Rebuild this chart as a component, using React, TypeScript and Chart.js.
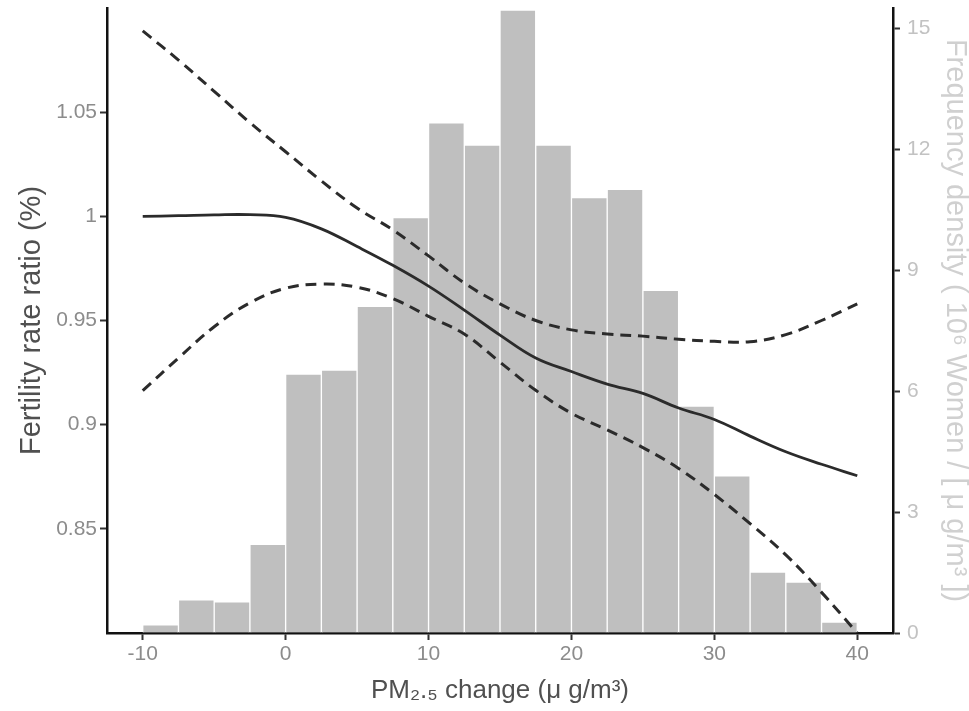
import { useEffect, useRef } from "react";
import { Chart, registerables } from "chart.js";

Chart.register(...registerables);

// Histogram bins (centres of 2.5-wide bins from -10 to 40)
const binCenters = [
  -8.75, -6.25, -3.75, -1.25, 1.25, 3.75, 6.25, 8.75, 11.25, 13.75,
  16.25, 18.75, 21.25, 23.75, 26.25, 28.75, 31.25, 33.75, 36.25, 38.75,
];
const frequencyDensity = [
  0.2, 0.82, 0.77, 2.2, 6.42, 6.52, 8.1, 10.3, 12.65, 12.1,
  15.45, 12.1, 10.8, 11.0, 8.5, 5.63, 3.9, 1.51, 1.26, 0.27,
];

// Exposure-response curve
const pmChange = [
  -10, -7.5, -5, -2.5, 0, 2.5, 5, 7.5, 10, 12.5, 15, 17.5, 20, 22.5, 25, 27.5, 30, 32.5, 35, 37.5, 40,
];
const ratioEstimate = [
  1.0, 1.0003, 1.0007, 1.0008, 0.9995, 0.994, 0.9855, 0.9765, 0.9665, 0.955, 0.943,
  0.932, 0.9255, 0.9195, 0.915, 0.908, 0.9025, 0.8945, 0.887, 0.881, 0.8755,
];
const ratioUpper = [
  1.089, 1.075, 1.06, 1.045, 1.031, 1.017, 1.004, 0.9935, 0.981, 0.968, 0.958,
  0.95, 0.9455, 0.9435, 0.9425, 0.941, 0.94, 0.9398, 0.9432, 0.95, 0.958,
];
const ratioLower = [
  0.9163, 0.932, 0.947, 0.9585, 0.9655, 0.9675, 0.966, 0.9605, 0.952, 0.9435, 0.93,
  0.9165, 0.9055, 0.8975, 0.889, 0.879, 0.8665, 0.8525, 0.8375, 0.8195, 0.8,
];

const xTicks = [-10, 0, 10, 20, 30, 40];
const leftTicks = [0.85, 0.9, 0.95, 1, 1.05];
const rightTicks = [0, 3, 6, 9, 12, 15];

const FONT = "'Liberation Sans', Arial, Helvetica, sans-serif";

export default function App() {
  const canvasRef = useRef<HTMLCanvasElement | null>(null);

  useEffect(() => {
    document.body.style.margin = "0";
    const canvas = canvasRef.current;
    if (!canvas) return;

    const zeroPad = (s: any) => {
      s.paddingTop = 0;
      s.paddingBottom = 0;
      s.paddingLeft = 0;
      s.paddingRight = 0;
    };

    const lineDs = (label: string, values: number[], dashed: boolean) => ({
      type: "line" as const,
      label,
      data: pmChange.map((x, i) => ({ x, y: values[i] })),
      yAxisID: "y",
      xAxisID: "x",
      borderColor: "#2b2b2b",
      borderWidth: dashed ? 3 : 2.8,
      borderDash: dashed ? [11, 7] : [],
      pointRadius: 0,
      fill: false,
      tension: 0.4,
      order: 0,
    });

    const chart = new Chart(canvas, {
      type: "bar",
      data: {
        datasets: [
          lineDs("Upper 95% CI", ratioUpper, true),
          lineDs("Lower 95% CI", ratioLower, true),
          lineDs("Fertility rate ratio", ratioEstimate, false),
          {
            type: "bar" as const,
            label: "Frequency density",
            data: binCenters.map((x, i) => ({ x, y: frequencyDensity[i] })) as any,
            yAxisID: "y2",
            xAxisID: "x",
            backgroundColor: "#bfbfbf",
            borderColor: "#ffffff",
            borderWidth: 1,
            borderSkipped: "bottom",
            barPercentage: 1,
            categoryPercentage: 1,
            order: 1,
          } as any,
        ],
      },
      options: {
        animation: false,
        responsive: true,
        maintainAspectRatio: false,
        layout: { padding: { top: 8, left: 0, right: 0, bottom: 0 } },
        plugins: {
          legend: { display: false },
          tooltip: { enabled: false },
        },
        scales: {
          x: {
            type: "linear",
            min: -12.5,
            max: 42.5,
            offset: false,
            afterBuildTicks: (s: any) => {
              s.ticks = xTicks.map((v) => ({ value: v }));
            },
            afterFit: (s: any) => {
              s.height = 78;
              zeroPad(s);
            },
            grid: {
              display: true,
              drawOnChartArea: false,
              drawTicks: true,
              tickLength: 7,
              tickWidth: 2,
              tickColor: "#333333",
              offset: false,
            },
            border: { display: true, color: "#111111", width: 2.5 },
            ticks: {
              color: "#8c8c8c",
              font: { family: FONT, size: 21 },
              padding: 2,
              maxRotation: 0,
              autoSkip: false,
              callback: (v: any) => String(v),
            },
            title: {
              display: true,
              text: "PM₂.₅ change (μ g/m³)",
              color: "#505050",
              font: { family: FONT, size: 26 },
              padding: { top: 0, bottom: 5 },
            },
          },
          y: {
            type: "linear",
            position: "left",
            min: 0.8,
            max: 1.1,
            afterBuildTicks: (s: any) => {
              s.ticks = leftTicks.map((v) => ({ value: v }));
            },
            afterFit: (s: any) => {
              s.width = 107;
              zeroPad(s);
            },
            grid: {
              display: true,
              drawOnChartArea: false,
              drawTicks: true,
              tickLength: 7,
              tickWidth: 2,
              tickColor: "#333333",
            },
            border: { display: true, color: "#111111", width: 2.5 },
            ticks: {
              color: "#8c8c8c",
              font: { family: FONT, size: 21 },
              padding: 3,
              autoSkip: false,
              callback: (v: any) => String(v),
            },
            title: {
              display: true,
              text: "Fertility rate ratio (%)",
              color: "#505050",
              font: { family: FONT, size: 29 },
              padding: { top: 15, bottom: 0 },
            },
          },
          y2: {
            type: "linear",
            position: "right",
            min: 0,
            max: 15.5,
            afterBuildTicks: (s: any) => {
              s.ticks = rightTicks.map((v) => ({ value: v }));
            },
            afterFit: (s: any) => {
              s.width = 76;
              zeroPad(s);
            },
            grid: {
              display: true,
              drawOnChartArea: false,
              drawTicks: true,
              tickLength: 7,
              tickWidth: 2,
              tickColor: "#333333",
            },
            border: { display: true, color: "#111111", width: 2.5 },
            ticks: {
              color: "#c2c2c2",
              font: { family: FONT, size: 21 },
              padding: 7,
              autoSkip: false,
              callback: (v: any) => String(v),
            },
            title: {
              display: true,
              text: "Frequency density ( 10⁶ Women / [ μ g/m³ ])",
              color: "#d0d0d0",
              font: { family: FONT, size: 29 },
              padding: { top: -3, bottom: 0 },
            },
          },
        },
      },
    });

    return () => chart.destroy();
  }, []);

  return (
    <div style={{ position: "relative", width: "969px", height: "711px", background: "#ffffff" }}>
      <canvas ref={canvasRef} />
    </div>
  );
}
